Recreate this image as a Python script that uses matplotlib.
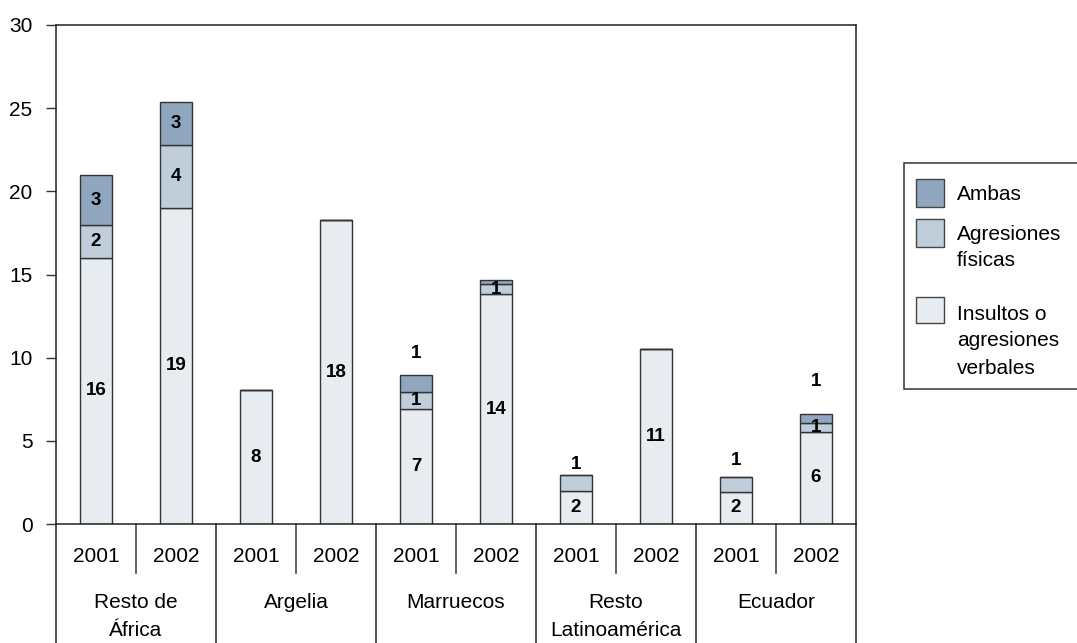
import matplotlib
matplotlib.use("Agg")
import matplotlib.pyplot as plt
from matplotlib.patches import Rectangle
from matplotlib.lines import Line2D

# ---- data ----
groups = ["Resto de\nÁfrica", "Argelia", "Marruecos", "Resto\nLatinoamérica", "Ecuador"]
years = ["2001", "2002"]
insultos = [16.0, 19.0, 8.05, 18.25, 6.93, 13.8, 2.0, 10.55, 1.93, 5.54]
agresiones = [1.95, 3.8, 0.0, 0.0, 1.02, 0.6, 0.95, 0.0, 0.9, 0.54]
ambas = [3.05, 2.55, 0.0, 0.0, 1.03, 0.24, 0.0, 0.0, 0.0, 0.55]
series_names = ["Ambas", "Agresiones\nfísicas", "Insultos o\nagresiones\nverbales"]
yticks = [0, 5, 10, 15, 20, 25, 30]

# ---- style ----
c_ambas = "#8FA6BE"
c_agr = "#C0CEDB"
c_ins = "#E7ECF0"
edge = "#333333"
W, H = 1077, 643
tick_font = dict(family="Liberation Sans", size=15)
lab_font = dict(family="Liberation Sans", size=13.5, weight="bold")
# labels drawn above the bar (bar index, series) -> offset in px above bar top
above = {(4, "ambas"): 21, (6, "agr"): 10, (8, "agr"): 16, (9, "ambas"): 32}

fig = plt.figure(figsize=(W / 100, H / 100), dpi=100)
ax = fig.add_axes([56 / W, 1 - 524 / H, (856 - 56) / W, (524 - 25) / H])

n = len(insultos)
x = list(range(n))
bw = 0.41
ax.bar(x, insultos, bw, color=c_ins, edgecolor=edge, linewidth=1.0, zorder=2)
bot2 = insultos
ax.bar(x, agresiones, bw, bottom=bot2, color=c_agr, edgecolor=edge, linewidth=1.0, zorder=2)
bot3 = [a + b for a, b in zip(insultos, agresiones)]
ax.bar(x, ambas, bw, bottom=bot3, color=c_ambas, edgecolor=edge, linewidth=1.0, zorder=2)

px_per_unit = 499 / 30.0
for key, vals, bots in [("ins", insultos, [0] * n), ("agr", agresiones, bot2), ("ambas", ambas, bot3)]:
    for i in range(n):
        v = vals[i]
        if v <= 0 or round(v) == 0:
            continue
        top = bots[i] + v
        if (i, key) in above:
            y = top + above[(i, key)] / px_per_unit
        else:
            y = bots[i] + v / 2
        ax.text(i, y, str(int(round(v))), ha="center", va="center", zorder=3, **lab_font)

ax.set_xlim(-0.5, n - 0.5)
ax.set_ylim(0, 30)
ax.set_yticks(yticks)
ax.set_yticklabels([str(t) for t in yticks], fontdict=tick_font)
ax.tick_params(axis="y", direction="out", length=7, width=1, pad=10, colors="#333333", labelcolor="black")
ax.set_xticks([])
for s in ax.spines.values():
    s.set_color("#222222")
    s.set_linewidth(1.1)

# category axis (two levels)
tr = ax.get_xaxis_transform()
ybot_fig = -(643 - 524) / 499.0
ysep_year = -(573 - 524) / 499.0
for i in range(n):
    ax.text(i, -(557 - 524) / 499.0, years[i % 2], transform=tr, ha="center", va="center",
            clip_on=False, **tick_font)
for g in range(len(groups)):
    ax.text(2 * g + 0.5, -(593 - 524) / 499.0, groups[g], transform=tr, ha="center", va="top",
            clip_on=False, linespacing=1.6, **tick_font)
for k in range(n + 1):
    xb = k - 0.5
    if k % 2 == 0:
        ax.add_line(Line2D([xb, xb], [0, ybot_fig], transform=tr, color="#222222", lw=1.1, clip_on=False))
    else:
        ax.add_line(Line2D([xb, xb], [0, ysep_year], transform=tr, color="#555555", lw=1.3, clip_on=False))

# legend (manual, figure pixel coordinates)
def fx(p):
    return p / W

def fy(p):
    return 1 - p / H

fig.patches.append(Rectangle((fx(904), fy(389)), fx(1090) - fx(904), fy(163) - fy(389),
                             transform=fig.transFigure, facecolor="white", edgecolor="#333333",
                             lw=1.1, clip_on=False))
leg = [(c_ambas, 179, 207, [195]), (c_agr, 219, 247, [235, 261]), (c_ins, 297, 323, [314, 341, 368])]
for (col, t0, t1, ys), name in zip(leg, series_names):
    fig.patches.append(Rectangle((fx(916), fy(t1)), fx(944) - fx(916), fy(t0) - fy(t1),
                                 transform=fig.transFigure, facecolor=col, edgecolor="#444444", lw=1.0))
    for line, yy in zip(name.split("\n"), ys):
        fig.text(fx(957), fy(yy), line, ha="left", va="center", **tick_font)

fig.savefig("out.png", dpi=100)
